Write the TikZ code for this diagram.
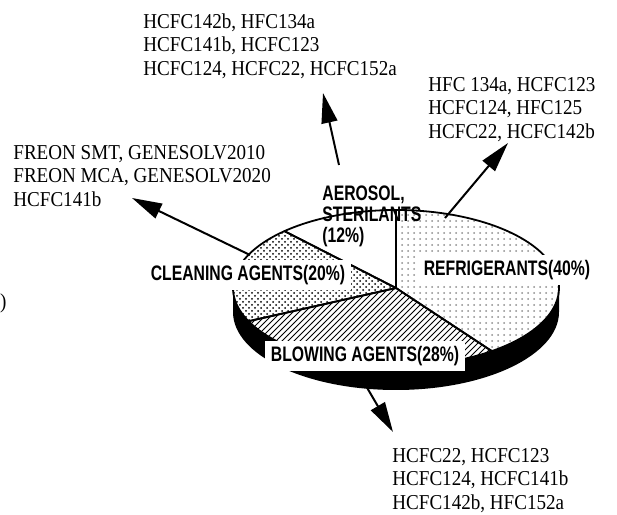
\documentclass[tikz,border=0pt]{standalone}
\usepackage{fontspec}
\setmainfont[FakeStretch=0.9]{Liberation Serif}
\newfontfamily\pielabelfont[FakeStretch=0.75]{Liberation Sans}
\usetikzlibrary{arrows.meta,patterns}

\begin{document}
\begin{tikzpicture}[x=0.5pt,y=0.5pt,
    listtext/.style={anchor=north west,inner sep=0pt,align=left,
      font=\fontsize{10.6}{11.75}\selectfont},
    pielabel/.style={inner xsep=3pt,inner ysep=2.5pt,
      font=\pielabelfont\bfseries\fontsize{10.5}{10.5}\selectfont},
    wedge/.style={line width=0.9pt,line join=round},
    leader/.style={line width=1pt,-{Triangle[length=15pt,width=8pt]}}]
  \useasboundingbox (0,0) rectangle (617,515);
  \coordinate (pc) at (396,227);
  % Rim
  \fill (pc) ++(180:163 and 78) arc[start angle=180,end angle=360,x radius=163,y radius=78]
    -- ++(0,-24) arc[start angle=360,end angle=180,x radius=163,y radius=78] -- cycle;
  % Wedges
  \draw[wedge,fill=white] (pc) -- ++(90:163 and 78)
    arc[start angle=90,end angle=133.2,x radius=163,y radius=78] -- cycle;
  \draw[wedge,pattern=crosshatch dots] (pc) -- ++(133.2:163 and 78)
    arc[start angle=133.2,end angle=205.2,x radius=163,y radius=78] -- cycle;
  \draw[wedge,pattern=north east lines] (pc) -- ++(205.2:163 and 78)
    arc[start angle=205.2,end angle=306,x radius=163,y radius=78] -- cycle;
  \draw[wedge,pattern=dots,pattern color=black!45] (pc) -- ++(-54:163 and 78)
    arc[start angle=-54,end angle=90,x radius=163,y radius=78] -- cycle;
  % Lists
  \node[listtext] (aerosolList) at (143,502) {HCFC142b, HFC134a\\HCFC141b, HCFC123\\HCFC124, HCFC22, HCFC152a};
  \node[listtext] (refrigList) at (428,438) {HFC 134a, HCFC123\\HCFC124, HFC125\\HCFC22, HCFC142b};
  \node[listtext] (cleanList) at (13,370) {FREON SMT, GENESOLV2010\\FREON MCA, GENESOLV2020\\HCFC141b};
  \node[listtext] (blowList) at (392,67) {HCFC22, HCFC123\\HCFC124, HCFC141b\\HCFC142b, HFC152a};
  \node[anchor=east,inner sep=0pt,font=\fontsize{10.6}{11.75}\selectfont] (cutLabel) at (7,212) {(c)};
  % Arrows
  \coordinate (aerosolTail) at (339,350);
  \coordinate (aerosolTip) at (323,422);
  \coordinate (refrigTail) at (445,297);
  \coordinate (refrigTip) at (508,372);
  \coordinate (cleanTail) at (250,260);
  \coordinate (cleanTip) at (132,317);
  \coordinate (blowTail) at (352,153);
  \coordinate (blowTip) at (393,83);
  \draw[leader] (aerosolTail) -- (aerosolTip);
  \draw[leader] (refrigTail) -- (refrigTip);
  \draw[leader] (cleanTail) -- (cleanTip);
  \draw[leader] (blowTail) -- (blowTip);
  % Labels
  \node[pielabel,anchor=north west,inner sep=0pt,align=left,
    font=\pielabelfont\bfseries\fontsize{10.5}{10.6}\selectfont] (aerosolLabel) at (322,330)
    {AEROSOL,\\STERILANTS\\(12\%)};
  \node[pielabel,fill=white] (cleanLabel) at (248,240) {CLEANING AGENTS(20\%)};
  \node[pielabel,fill=white] (refrigLabel) at (507,245) {REFRIGERANTS(40\%)};
  \node[pielabel,fill=white] (blowLabel) at (365,159) {BLOWING AGENTS(28\%)};
\end{tikzpicture}
\end{document}
